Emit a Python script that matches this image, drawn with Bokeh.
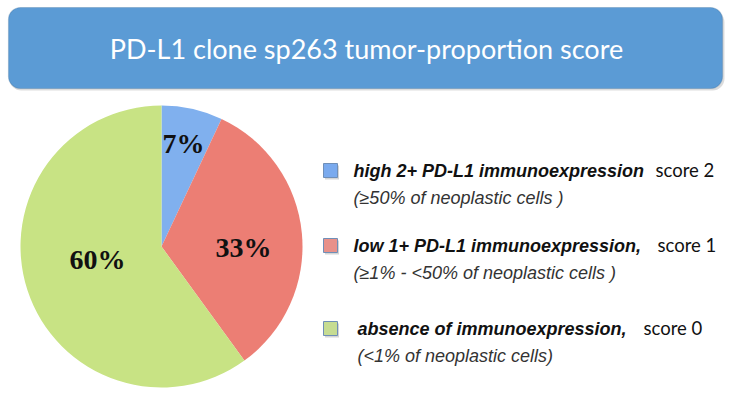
import math
from bokeh.plotting import figure
from bokeh.models import Range1d, BoxAnnotation
from bokeh.core.properties import value
from bokeh.embed import file_html
from bokeh.resources import INLINE

# ---- data ----
title = "PD-L1 clone sp263 tumor-proportion score"
shares = [7, 33, 60]
share_labels = ["7%", "33%", "60%"]
slice_colors = ["#80B0EE", "#EC7E74", "#C8E384"]
legend_bold = ["high 2+ PD-L1 immunoexpression",
               "low 1+ PD-L1 immunoexpression,",
               "absence of immunoexpression,"]
legend_detail = ["(\u226550% of neoplastic cells )",
                 "(\u22651% - <50% of neoplastic cells )",
                 "(<1% of neoplastic cells)"]
legend_scores = ["score 2", "score 1", "score 0"]
legend_colors = ["#7AAAEE", "#E8918A", "#C6DC92"]

W, H = 730, 400
p = figure(width=W, height=H, output_backend="svg", toolbar_location=None,
           x_range=Range1d(0, W), y_range=Range1d(0, H), min_border=0)
p.axis.visible = False
p.grid.visible = False
p.outline_line_color = None
p.background_fill_color = "white"
p.border_fill_color = "white"

def Y(py):
    return H - py

# ---- title box ----
shadow = BoxAnnotation(left=9, right=724, top=Y(10), bottom=Y(90),
                       fill_color="#9a9a9a", fill_alpha=0.35, line_color=None,
                       border_radius=12, level="underlay")
p.add_layout(shadow)
box = BoxAnnotation(left=8, right=722, top=Y(7), bottom=Y(88),
                    fill_color="#5B9BD5", fill_alpha=1.0, line_color="#41719C",
                    line_width=1.2, border_radius=12, level="underlay")
p.add_layout(box)
p.text(x=[366], y=[Y(48)], text=[title], text_font=value("Lato"),
       text_font_size="27px", text_color="white", text_align="center",
       text_baseline="middle")

# ---- pie ----
cx, cy, r = 161, Y(246), 141
total = sum(shares)
starts, ends = [], []
acc = 0.0
for s in shares:
    a0 = math.pi / 2 - 2 * math.pi * acc / total
    acc += s
    a1 = math.pi / 2 - 2 * math.pi * acc / total
    starts.append(a0)
    ends.append(a1)

p.wedge(x=[cx] * len(shares), y=[cy] * len(shares), radius=r,
        start_angle=starts, end_angle=ends, direction="clock",
        fill_color=slice_colors, line_color=None)

# label placement offsets from the pie centre (layout, in px)
label_dx = [22, 82, -64]
label_dy = [103, -1, -13]
p.text(x=[cx + d for d in label_dx], y=[cy + d for d in label_dy],
       text=share_labels, text_font=value("Liberation Serif"),
       text_font_style="bold", text_font_size="28px", text_color="#111111",
       text_align="center", text_baseline="middle")

# ---- legend ----
rows_y = [Y(170), Y(245), Y(328)]
sq_x = 330
text_x = [353, 353, 357]
score_x = [655, 657, 643]
p.rect(x=[sq_x + 1.5] * 3, y=[y - 2 for y in rows_y], width=14, height=14,
       fill_color="#888888", fill_alpha=0.35, line_color=None)
p.rect(x=[sq_x] * 3, y=rows_y, width=14, height=14,
       fill_color=legend_colors, line_color="#6F8FB8", line_width=1)
p.text(x=text_x, y=rows_y, text=legend_bold, text_font=value("Liberation Sans"),
       text_font_style="bold italic", text_font_size="18px", text_color="#111111",
       text_baseline="middle")
p.text(x=text_x, y=[y - 27 for y in rows_y], text=legend_detail,
       text_font=value("Liberation Sans"), text_font_style="italic",
       text_font_size="18px", text_color="#333333", text_baseline="middle")
p.text(x=score_x, y=[y + 1 for y in rows_y], text=legend_scores,
       text_font=value("Lato"), text_font_size="18.5px", text_color="#111111",
       text_baseline="middle")

open("out.html", "w").write(file_html(p, INLINE))
